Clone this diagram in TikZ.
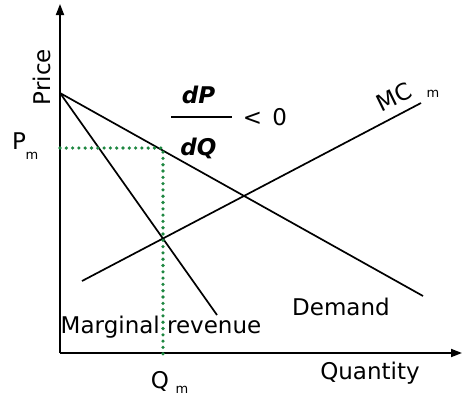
\documentclass[tikz,border=0pt]{standalone}
\usepackage{fontspec}
\setmainfont{DejaVu Sans}
\usetikzlibrary{
  arrows.meta, % For arrow tips
  calc
}

\begin{document}
\begin{tikzpicture}[
      x=1pt, y=-1pt,
      >={Triangle[length=11pt, width=8pt]}, % Default arrow tip
      axis/.style={line width=1.8pt, ->},
      curve/.style={line width=1.7pt, black},
      guide/.style={line width=3.6pt, draw={rgb,255:red,30;green,135;blue,65},
        line cap=round, dash pattern=on 0pt off 6.3pt},
      lbl/.style={font=\fontsize{23}{26}\selectfont, inner sep=0pt},
      sub/.style={font=\fontsize{13}{13}\selectfont, inner sep=0pt},
    ]
    \useasboundingbox (0,0) rectangle (462,397);

    % Achsen
    \coordinate (O) at (60,353);
    \coordinate (ytip) at (60,4);
    \coordinate (xtip) at (462,353);
    \draw[axis] (O) -- (ytip);
    \draw[axis] (O) -- (xtip);

    % Punkte der Kurven
    \coordinate (A) at (60,93);
    \coordinate (D) at (423,296);
    \coordinate (R) at (217,315);
    \coordinate (M1) at (82,281);
    \coordinate (M2) at (421,103);
    \coordinate (P) at (60,148);
    \coordinate (E) at (163,148);
    \coordinate (Q) at (163,356);

    % Kurven
    \foreach \i/\j in {A/D, A/R, M1/M2}
    \draw[curve] (\i) -- (\j);

    % Optimum
    \draw[guide] (P) -- (E) -- (Q);

    % Beschriftung
    \node[lbl, rotate=90] (price) at (42,77) {Price};
    \node[lbl] (quantity) at (370,373) {Quantity};
    \node[lbl] (demand) at (341,307) {Demand};
    \node[lbl] (mr) at (161,327) {Marginal revenue};
    \node[lbl] (pm) at (19,141) {P};
    \node[sub] (pmsub) at (32,156) {m};
    \node[lbl] (qm) at (160,381) {Q};
    \node[sub] (qmsub) at (182,390) {m};
    \node[lbl, rotate=26] (mc) at (394,97) {MC};
    \node[sub] (mcsub) at (433,94) {m};

    % Steigung
    \coordinate (f1) at (171,117);
    \coordinate (f2) at (232,117);
    \draw[line width=1.7pt] (f1) -- (f2);
    \node[lbl] (dp) at ($(f1)!0.45!(f2) + (0,-22)$) {\textbf{\textit{dP}}};
    \node[lbl] (dq) at ($(f1)!0.45!(f2) + (0,31)$) {\textbf{\textit{dQ}}};
    \node[lbl] (lt) at (265,117) {<\;\,0};

  \end{tikzpicture}
\end{document}
